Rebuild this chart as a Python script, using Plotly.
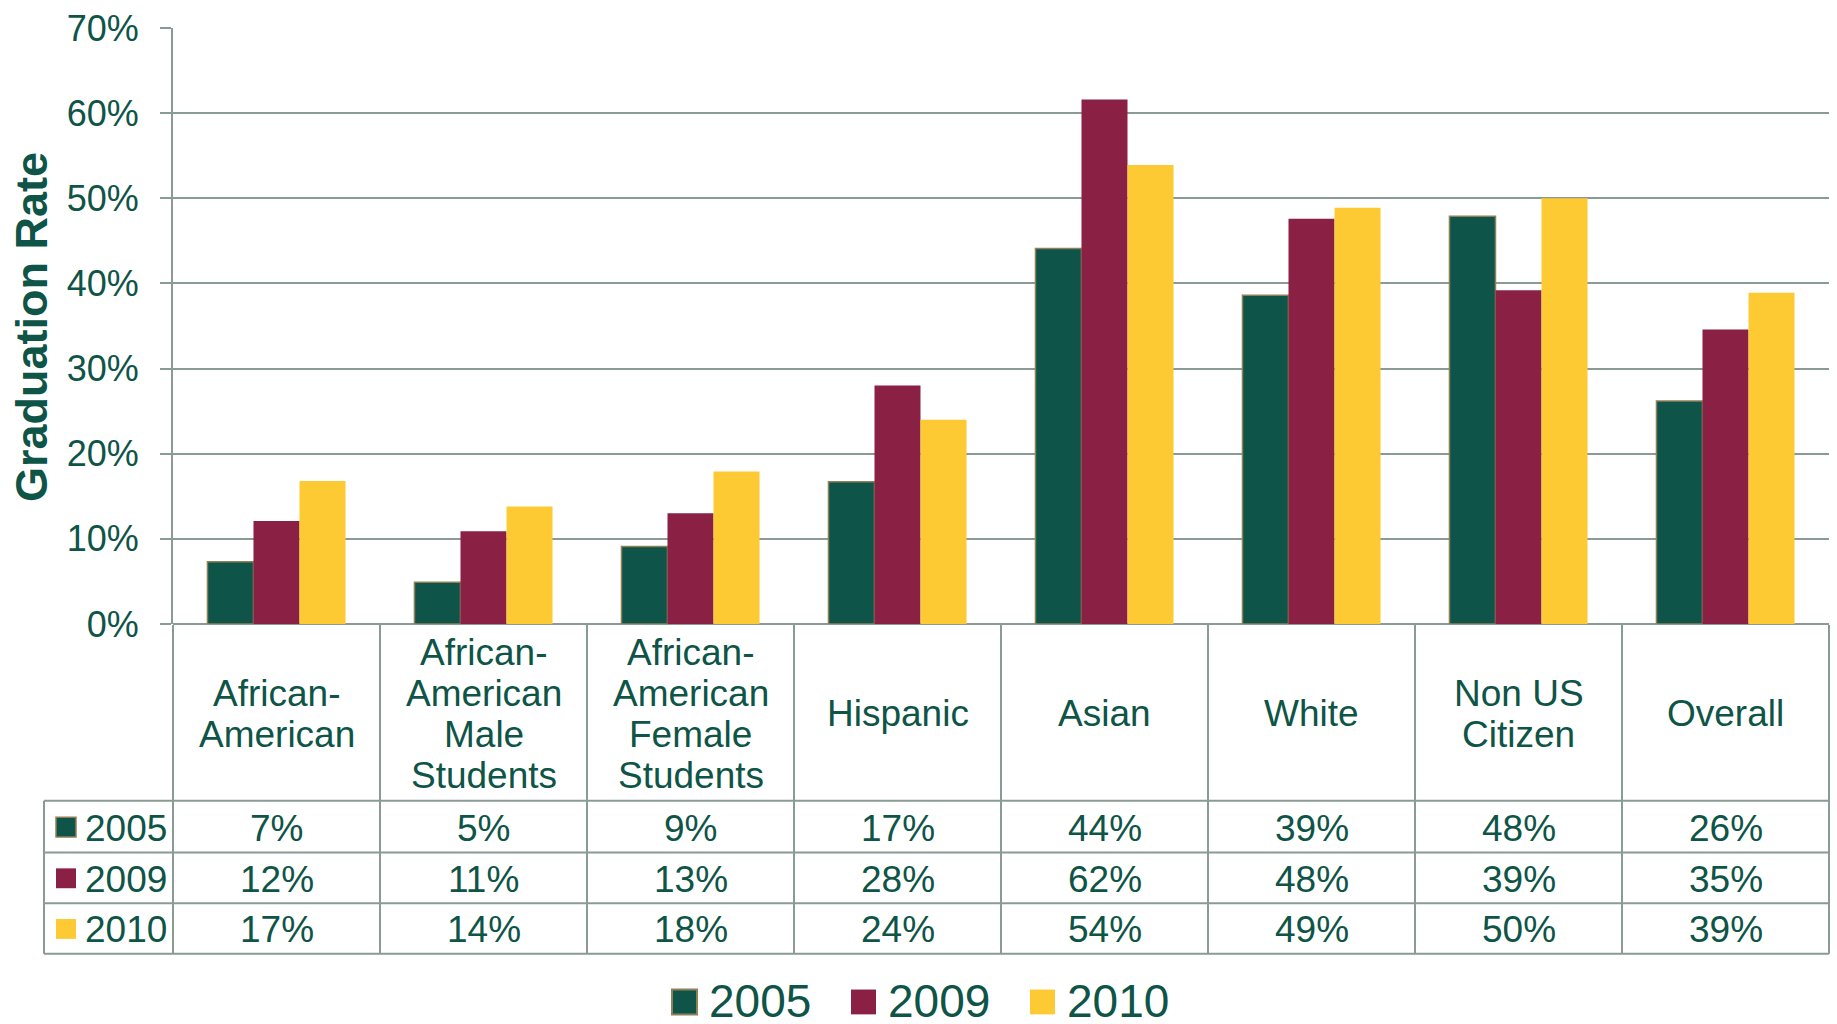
import plotly.graph_objects as go

# data
categories = ["African-American", "African-American Male Students", "African-American Female Students",
              "Hispanic", "Asian", "White", "Non US Citizen", "Overall"]
header_labels = ["African-<br>American", "African-<br>American<br>Male<br>Students",
                 "African-<br>American<br>Female<br>Students", "Hispanic", "Asian", "White",
                 "Non US<br>Citizen", "Overall"]
years = ["2005", "2009", "2010"]
rate_2005 = [7.3, 4.9, 9.1, 16.7, 44.1, 38.6, 47.9, 26.2]
rate_2009 = [12.1, 10.9, 13.0, 28.0, 61.6, 47.6, 39.2, 34.6]
rate_2010 = [16.8, 13.8, 17.9, 24.0, 53.9, 48.9, 50.0, 38.9]
y_ticks = [0, 10, 20, 30, 40, 50, 60, 70]
y_ticktext = ["0%", "10%", "20%", "30%", "40%", "50%", "60%", "70%"]

rates = [rate_2005, rate_2009, rate_2010]
colors = ["#0E5448", "#8B2045", "#FDCA33"]
outline = ["#8F805A", "#8B2045", "#FDCA33"]
txt = "#0E5447"
grid = "#8A9A95"
font = "Liberation Sans, Arial, sans-serif"

W, H = 1837, 1024
L, R, T, B = 173, 8, 24, 400
pw, ph = W - L - R, H - T - B


def px(x):  # pixel -> paper x
    return (x - L) / pw


def py(y):  # pixel -> paper y
    return (H - B - y) / ph


fig = go.Figure()
for yr, vals, c, oc in zip(years, rates, colors, outline):
    fig.add_trace(go.Bar(
        x=categories, y=vals, name=yr,
        marker=dict(color=c, line=dict(color=oc, width=1.5 if yr == "2005" else 0)),
    ))

shapes = []
ann = []
ncat = len(categories)

# table lines
for k in range(ncat + 1):
    shapes.append(dict(type="line", xref="paper", yref="paper", x0=k / ncat, x1=k / ncat,
                       y0=py(625), y1=py(956), line=dict(color=grid, width=2)))
shapes.append(dict(type="line", xref="paper", yref="paper", x0=px(44), x1=px(44),
                   y0=py(802), y1=py(956), line=dict(color=grid, width=2)))
for yy in [802, 854, 905, 956]:
    shapes.append(dict(type="line", xref="paper", yref="paper", x0=px(44), x1=1,
                       y0=py(yy), y1=py(yy), line=dict(color=grid, width=2)))

# header row labels
for cat, lab in zip(categories, header_labels):
    lines = lab.split("<br>")
    n = len(lines)
    for j, ln in enumerate(lines):
        yc = 714.5 + (j - (n - 1) / 2) * 41.5
        ann.append(dict(x=cat, xref="x", y=py(yc), yref="paper", text=ln, showarrow=False,
                        xanchor="center", yanchor="middle", font=dict(size=37, color=txt, family=font)))

# value rows with key column
row_centers = [829.5, 881, 932]
for yr, vals, c, oc, rc in zip(years, rates, colors, outline, row_centers):
    shapes.append(dict(type="rect", xref="paper", yref="paper", x0=px(56), x1=px(76),
                       y0=py(rc - 11), y1=py(rc + 9), fillcolor=c,
                       line=dict(color=oc, width=1.5 if yr == "2005" else 0)))
    ann.append(dict(x=px(83), xref="paper", y=py(rc), yref="paper", text=yr, showarrow=False,
                    xanchor="left", yanchor="middle", font=dict(size=37, color=txt, family=font)))
    for cat, v in zip(categories, vals):
        ann.append(dict(x=cat, xref="x", y=py(rc), yref="paper", text=f"{round(v)}%", showarrow=False,
                        xanchor="center", yanchor="middle", font=dict(size=37, color=txt, family=font)))

# bottom legend
leg_x = [672, 851, 1030]
for yr, c, oc, lx in zip(years, colors, outline, leg_x):
    shapes.append(dict(type="rect", xref="paper", yref="paper", x0=px(lx), x1=px(lx + 25),
                       y0=py(992), y1=py(1017), fillcolor=c,
                       line=dict(color=oc, width=2 if yr == "2005" else 0)))
    ann.append(dict(x=px(lx + 35), xref="paper", y=py(1004), yref="paper", text=yr, showarrow=False,
                    xanchor="left", yanchor="middle", font=dict(size=46, color=txt, family=font)))

# y axis title
ann.append(dict(x=px(32), xref="paper", y=py(325), yref="paper", text="<b>Graduation Rate</b>",
                showarrow=False, textangle=-90, xanchor="center", yanchor="middle",
                font=dict(size=45, color=txt, family=font)))

fig.update_layout(
    width=W, height=H,
    margin=dict(l=L, r=R, t=T, b=B),
    plot_bgcolor="white", paper_bgcolor="white",
    barmode="group", bargap=0.333, bargroupgap=0,
    showlegend=False,
    shapes=shapes, annotations=ann,
    font=dict(family=font, color=txt),
)
fig.update_xaxes(range=[-0.5, ncat - 0.5], showticklabels=False, showgrid=False,
                 zeroline=False, showline=False, ticks="")
fig.update_yaxes(range=[0, 70], tickmode="array", tickvals=y_ticks, ticktext=y_ticktext, showgrid=True,
                 gridcolor=grid, gridwidth=2, zeroline=True, zerolinecolor=grid, zerolinewidth=2,
                 showline=True, linecolor=grid, linewidth=2, ticks="outside", ticklen=11,
                 tickcolor=grid, tickwidth=2, ticklabelstandoff=14,
                 tickfont=dict(size=36, color=txt, family=font))

fig.write_html("out.html", config={"displayModeBar": False},
               post_script="document.body.style.margin='0';document.body.style.overflow='hidden';")
